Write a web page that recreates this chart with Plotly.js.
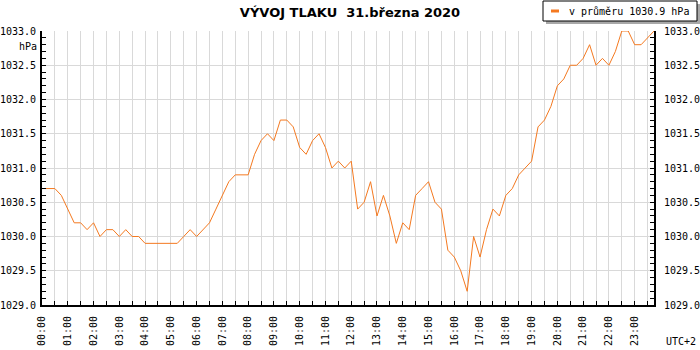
<!DOCTYPE html>
<html>
<head>
<meta charset="utf-8">
<script src="https://cdn.plot.ly/plotly-3.0.1.min.js"></script>
<style>html,body{margin:0;padding:0;background:#fff;}#chart{width:700px;height:350px;}</style>
</head>
<body>
<div id="chart"></div>
<script>
const chartDate = '2020-03-31';
const times = [
 '00:00','00:15','00:30','00:45','01:00','01:15','01:30','01:45',
 '02:00','02:15','02:30','02:45','03:00','03:15','03:30','03:45',
 '04:00','04:15','04:30','04:45','05:00','05:15','05:30','05:45',
 '06:00','06:15','06:30','06:45','07:00','07:15','07:30','07:45',
 '08:00','08:15','08:30','08:45','09:00','09:15','09:30','09:45',
 '10:00','10:15','10:30','10:45','11:00','11:15','11:30','11:45',
 '12:00','12:15','12:30','12:45','13:00','13:15','13:30','13:45',
 '14:00','14:15','14:30','14:45','15:00','15:15','15:30','15:45',
 '16:00','16:15','16:30','16:45','17:00','17:15','17:30','17:45',
 '18:00','18:15','18:30','18:45','19:00','19:15','19:30','19:45',
 '20:00','20:15','20:30','20:45','21:00','21:15','21:30','21:45',
 '22:00','22:15','22:30','22:45','23:00','23:15','23:30','23:45'
];
const pressure = [
 1030.7,1030.7,1030.7,1030.6,1030.4,1030.2,1030.2,1030.1,
 1030.2,1030.0,1030.1,1030.1,1030.0,1030.1,1030.0,1030.0,
 1029.9,1029.9,1029.9,1029.9,1029.9,1029.9,1030.0,1030.1,
 1030.0,1030.1,1030.2,1030.4,1030.6,1030.8,1030.9,1030.9,
 1030.9,1031.2,1031.4,1031.5,1031.4,1031.7,1031.7,1031.6,
 1031.3,1031.2,1031.4,1031.5,1031.3,1031.0,1031.1,1031.0,
 1031.1,1030.4,1030.5,1030.8,1030.3,1030.6,1030.3,1029.9,
 1030.2,1030.1,1030.6,1030.7,1030.8,1030.5,1030.4,1029.8,
 1029.7,1029.5,1029.2,1030.0,1029.7,1030.1,1030.4,1030.3,
 1030.6,1030.7,1030.9,1031.0,1031.1,1031.6,1031.7,1031.9,
 1032.2,1032.3,1032.5,1032.5,1032.6,1032.8,1032.5,1032.6,
 1032.5,1032.7,1033.0,1033.0,1032.8,1032.8,1032.9,1033.0
];
const yTickVals = [1029.0,1029.5,1030.0,1030.5,1031.0,1031.5,1032.0,1032.5,1033.0];

const titleText = 'VÝVOJ TLAKU  31.března 2020';
const unitText = 'hPa';
const tzText = 'UTC+2';

const xs = times.map(t => chartDate + ' ' + t);
const mean = pressure.reduce((a, b) => a + b, 0) / pressure.length;
const legendText = 'v průměru ' + mean.toFixed(1) + ' hPa';

const lineColor = '#f47920';
const gridColor = '#d9d9d9';
const mono = 'DejaVu Sans Mono';

const yCommon = {
  range: [1029, 1033],
  tickvals: yTickVals,
  tickformat: '.1f',
  ticks: 'inside', ticklen: 4, tickwidth: 1, tickcolor: '#000',
  minor: {dtick: 0.1, ticks: 'inside', ticklen: 4, tickwidth: 1, tickcolor: '#000', showgrid: false},
  showline: true, linecolor: '#000', linewidth: 2,
  zeroline: false,
  tickfont: {family: mono, size: 10, color: '#000'},
  fixedrange: true
};

const traces = [
  {x: xs, y: pressure, type: 'scatter', mode: 'lines',
   line: {color: lineColor, width: 1}, hoverinfo: 'skip', showlegend: false},
  {x: xs, y: pressure, type: 'scatter', mode: 'lines', yaxis: 'y2',
   opacity: 0, line: {color: lineColor, width: 1}, hoverinfo: 'skip', showlegend: false}
];

const L = 42, R = 46, T = 31, B = 45, W = 700, H = 350;
const pw = W - L - R, ph = H - T - B;
const px = v => (v - L) / pw;
const py = v => (H - B - v) / ph;

const layout = {
  width: W, height: H,
  margin: {l: L, r: R, t: T, b: B, pad: 0},
  paper_bgcolor: '#fff', plot_bgcolor: '#fff',
  showlegend: false,
  title: {text: '<b>' + titleText + '</b>', x: 0.5, xanchor: 'center', xref: 'container',
          y: 1 - 12 / H, yanchor: 'middle', yref: 'container',
          font: {family: 'DejaVu Sans', size: 13, color: '#000'}},
  xaxis: {
    type: 'date',
    range: [xs[0], xs[xs.length - 1]],
    dtick: 3600000, tick0: chartDate + ' 00:00',
    tickformat: '%H:%M', tickangle: -90,
    ticks: 'inside', ticklen: 4, tickwidth: 1, tickcolor: '#000',
    ticklabelstandoff: 5,
    minor: {dtick: 1800000, ticks: 'inside', ticklen: 4, tickwidth: 1, tickcolor: '#000',
            showgrid: true, gridcolor: gridColor, gridwidth: 1},
    showgrid: true, gridcolor: gridColor, gridwidth: 1,
    showline: true, linecolor: '#000', linewidth: 2,
    zeroline: false,
    tickfont: {family: mono, size: 10, color: '#000'},
    fixedrange: true
  },
  yaxis: Object.assign({}, yCommon, {side: 'left', showgrid: true, gridcolor: gridColor, gridwidth: 1, ticklabelstandoff: 2}),
  yaxis2: Object.assign({}, yCommon, {side: 'right', overlaying: 'y', showgrid: false, ticklabelstandoff: 6}),
  shapes: [
    {type: 'rect', xref: 'paper', yref: 'paper', x0: px(546), x1: px(700), y0: py(24), y1: py(4),
     fillcolor: '#a8a8a8', line: {width: 0}},
    {type: 'rect', xref: 'paper', yref: 'paper', x0: px(543), x1: px(697), y0: py(21), y1: py(1),
     fillcolor: '#ffffff', line: {color: '#000', width: 1}},
    {type: 'line', xref: 'paper', yref: 'paper', x0: px(551), x1: px(559), y0: py(11), y1: py(11),
     line: {color: lineColor, width: 3}}
  ],
  annotations: [
    {text: legendText, xref: 'paper', yref: 'paper', x: px(567), y: py(11),
     xanchor: 'left', yanchor: 'middle', showarrow: false,
     font: {family: mono, size: 10, color: '#000'}},
    {text: unitText, xref: 'paper', yref: 'paper', x: px(39), y: py(46),
     xanchor: 'right', yanchor: 'middle', showarrow: false,
     font: {family: mono, size: 10, color: '#000'}},
    {text: tzText, xref: 'paper', yref: 'paper', x: px(698), y: py(341),
     xanchor: 'right', yanchor: 'middle', showarrow: false,
     font: {family: mono, size: 10, color: '#000'}}
  ]
};

Plotly.newPlot('chart', traces, layout, {displayModeBar: false, staticPlot: true});
</script>
</body>
</html>
